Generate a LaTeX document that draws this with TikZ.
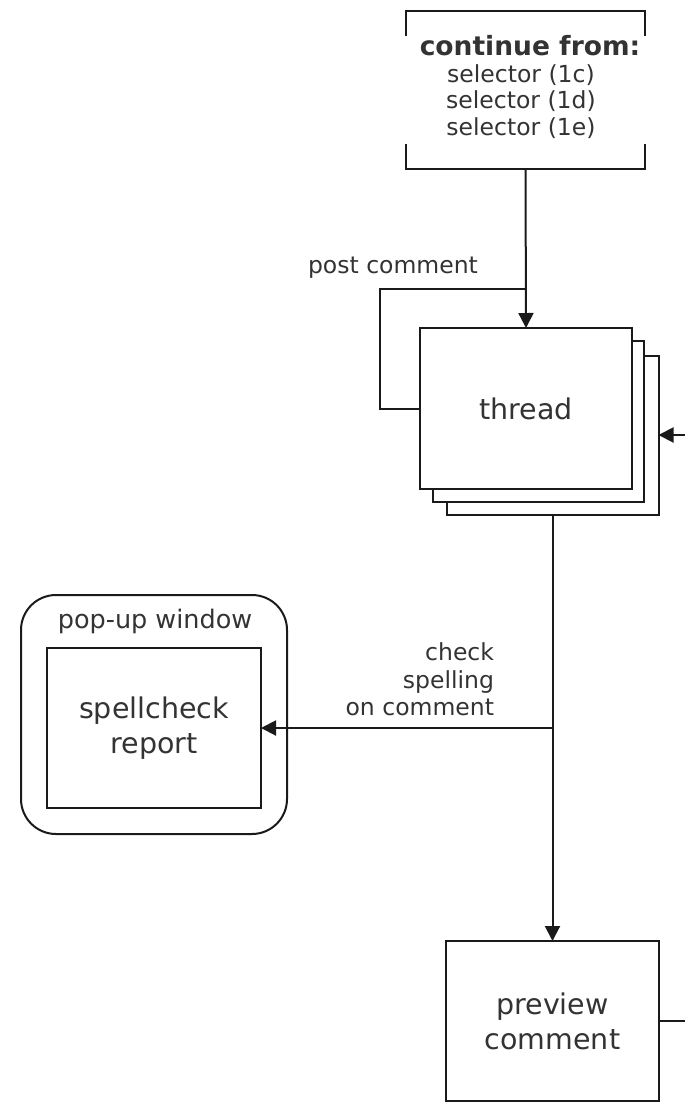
\documentclass[tikz,border=0pt]{standalone}
\usepackage{fontspec}
\setmainfont{DejaVu Sans}
\usetikzlibrary{arrows.meta,calc}
\definecolor{txtcol}{HTML}{333333}
\definecolor{lncol}{HTML}{1A1A1A}
\begin{document}
\begin{tikzpicture}[x=1pt,y=-1pt,
  every node/.style={inner sep=0pt,outer sep=0pt,text=txtcol},
  lnstyle/.style={draw=lncol,line width=2pt},
  arr/.style={lnstyle,-{Triangle[length=15pt,width=15pt]}},
  box/.style={lnstyle,fill=white,minimum width=212pt,minimum height=160pt,align=center,font=\fontsize{28.5}{35}\selectfont},
  small/.style={font=\fontsize{23.5}{27.5}\selectfont},
  bracketbox/.style={minimum width=239pt,minimum height=158pt}
]
\useasboundingbox (0,0) rectangle (685,1106);

% continue-from bracket box
\node[bracketbox] (cont) at (525.5,90) {};
\draw[lnstyle] ($(cont.north west)+(0,25)$) -- (cont.north west) -- (cont.north east) -- ++(0,25);
\draw[lnstyle] ($(cont.south west)+(0,-25)$) -- (cont.south west) -- (cont.south east) -- ++(0,-25);
\node[font=\fontsize{26.5}{28}\selectfont\bfseries] (conttitle) at (530,46) {continue from:};
\node[small] (sel1) at (521,75) {selector (1c)};
\node[small] (sel2) at (521,101.5) {selector (1d)};
\node[small] (sel3) at (521,128) {selector (1e)};

% thread stack
\node[box,minimum width=212pt,minimum height=159pt] (thread3) at (552.5,435.5) {};
\node[box,minimum width=211pt,minimum height=161pt] (thread2) at (538.5,421.5) {};
\node[box,minimum width=212pt,minimum height=161pt] (thread) at (526,408.5) {thread};

\draw[arr] (cont.south) -- (thread.north);

% post comment loop
\coordinate (pc) at (cont.south |- 0,289);
\draw[lnstyle] (thread.west) -- ++(-40,0) |- (pc);
\node[small] (pclabel) at (393,268) {post comment};

% incoming from right
\coordinate (rin) at (685,435);
\draw[arr] (rin) -- (thread3.east |- rin);

% popup window
\node[lnstyle,rounded corners=35pt,minimum width=266pt,minimum height=239pt] (popup) at (154,714.5) {};
\node[font=\fontsize{25.5}{28}\selectfont] (poptitle) at (155,621) {pop-up window};
\node[box,minimum width=214pt,minimum height=160pt] (spell) at (154,728) {spellcheck\\report};

% preview
\node[box,minimum width=213pt,minimum height=160pt] (preview) at (552.5,1021) {preview\\comment};

\draw[arr] (thread3.south) -- (preview.north);
\coordinate (br) at (552.5,728);
\draw[arr] (br) -- (spell.east);
\node[small,align=right,anchor=east] (cklabel) at (494,679.5) {check\\spelling\\on comment};

\coordinate (pout) at (685,1021);
\draw[lnstyle] (preview.east) -- (pout);
\end{tikzpicture}
\end{document}
